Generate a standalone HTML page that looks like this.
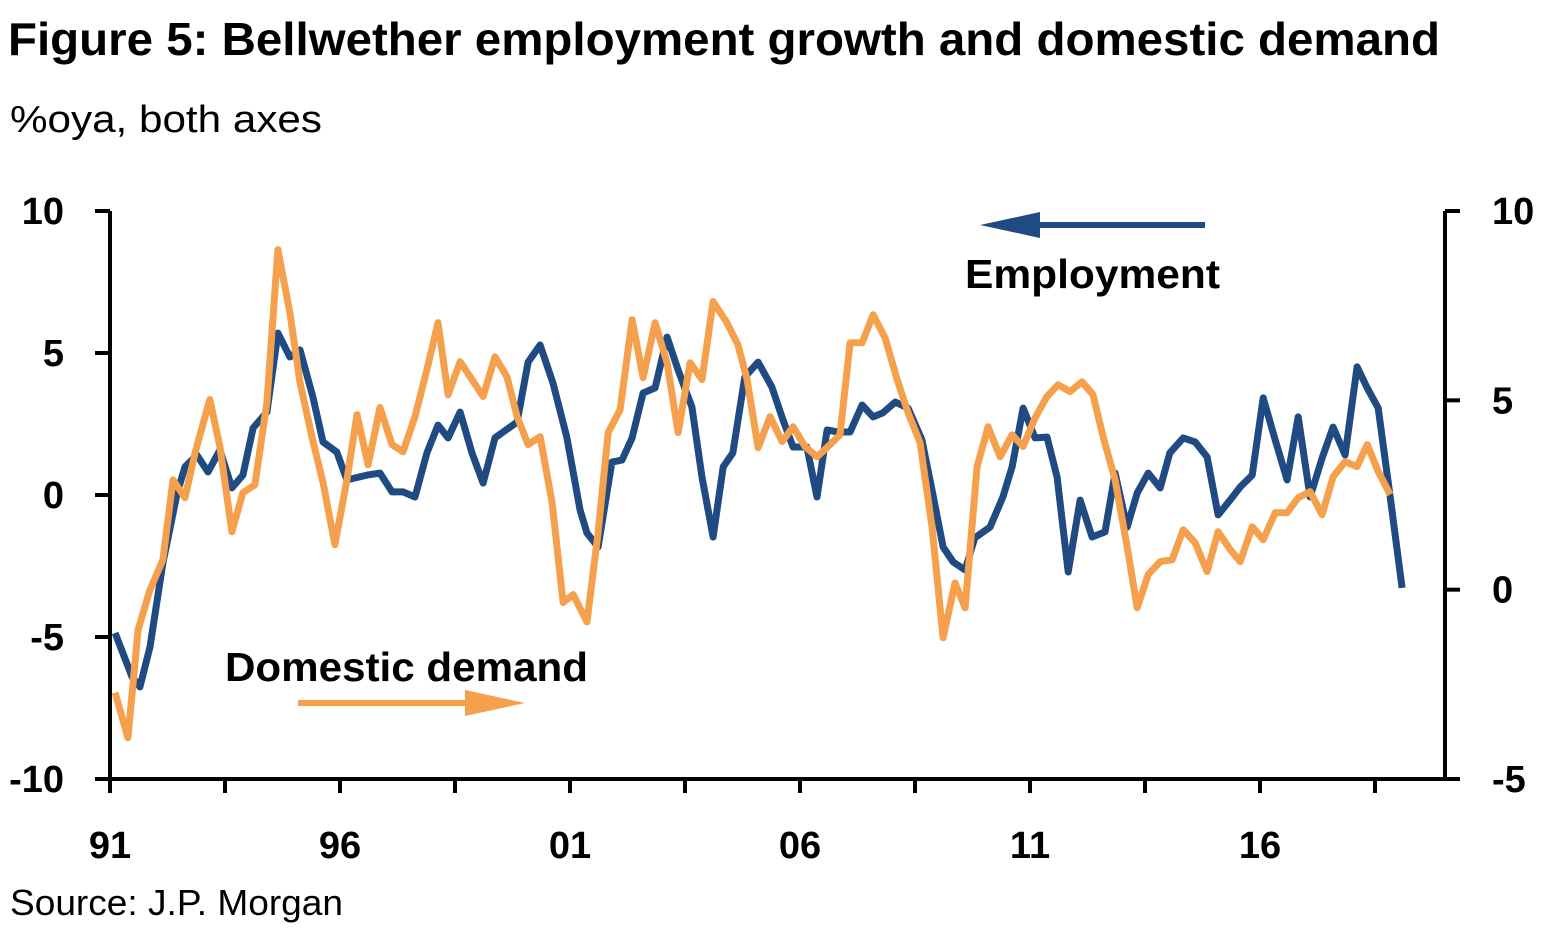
<!DOCTYPE html>
<html><head><meta charset="utf-8"><style>
body{margin:0;background:#fff;}
svg{display:block;font-family:"Liberation Sans",Arial,sans-serif;}
</style></head><body>
<svg id="chart" width="1547" height="934" viewBox="0 0 1547 934" xmlns="http://www.w3.org/2000/svg">
<text x="8" y="55" font-size="46" font-weight="bold" fill="#000" textLength="1432" lengthAdjust="spacingAndGlyphs">Figure 5: Bellwether employment growth and domestic demand</text>
<text x="10" y="132" font-size="38" fill="#000" textLength="312" lengthAdjust="spacingAndGlyphs">%oya, both axes</text>
<text x="10" y="915" font-size="36" fill="#000" textLength="333" lengthAdjust="spacingAndGlyphs">Source: J.P. Morgan</text>
<g id="axes"></g>
<g id="series"></g>
<text x="965" y="288" font-size="41" font-weight="bold" fill="#000" textLength="255" lengthAdjust="spacingAndGlyphs">Employment</text>
<line x1="1205" y1="225" x2="1030" y2="225" stroke="#1f4a82" stroke-width="6"/>
<polygon points="980,225 1040,212 1040,238" fill="#1f4a82"/>
<text x="225" y="681" font-size="41" font-weight="bold" fill="#000" textLength="363" lengthAdjust="spacingAndGlyphs">Domestic demand</text>
<line x1="298" y1="703" x2="470" y2="703" stroke="#f5a04c" stroke-width="6"/>
<polygon points="525,703 465,690 465,716" fill="#f5a04c"/>
</svg>
<script>
const empDates=[1991.11,1991.48,1991.65,1991.87,1992.15,1992.46,1992.63,1992.89,1993.13,1993.39,1993.65,1993.89,1994.11,1994.41,1994.65,1994.91,1995.13,1995.41,1995.63,1995.93,1996.15,1996.59,1996.87,1997.13,1997.37,1997.63,1997.89,1998.13,1998.35,1998.61,1998.87,1999.11,1999.37,1999.85,2000.09,2000.35,2000.63,2000.93,2001.22,2001.37,2001.61,2001.91,2002.13,2002.35,2002.59,2002.85,2003.11,2003.35,2003.65,2003.87,2004.11,2004.33,2004.54,2004.80,2005.09,2005.39,2005.63,2005.85,2006.15,2006.37,2006.59,2006.83,2007.09,2007.35,2007.59,2007.80,2008.07,2008.35,2008.65,2008.87,2009.11,2009.33,2009.59,2009.80,2010.13,2010.41,2010.61,2010.85,2011.11,2011.37,2011.59,2011.83,2012.09,2012.35,2012.63,2012.85,2013.11,2013.33,2013.57,2013.83,2014.04,2014.33,2014.59,2014.85,2015.09,2015.35,2015.57,2015.83,2016.07,2016.33,2016.59,2016.83,2017.09,2017.35,2017.59,2017.85,2018.11,2018.33,2018.57,2018.83,2019.09];
const empValues=[-4.86,-6.41,-6.76,-5.35,-2.39,0.07,0.99,1.41,0.81,1.58,0.25,0.70,2.36,2.92,5.70,4.86,5.11,3.45,1.87,1.51,0.53,0.70,0.77,0.11,0.11,-0.07,1.48,2.46,2.01,2.92,1.48,0.42,2.01,2.57,4.68,5.28,3.94,2.04,-0.53,-1.34,-1.83,1.16,1.23,2.01,3.59,3.77,5.56,4.40,3.10,0.63,-1.48,0.99,1.48,4.15,4.68,3.80,2.64,1.69,1.69,-0.07,2.29,2.22,2.22,3.17,2.75,2.89,3.27,3.06,1.94,0.18,-1.83,-2.36,-2.64,-1.51,-1.13,-0.07,0.99,3.06,2.01,2.04,0.63,-2.71,-0.18,-1.48,-1.30,0.77,-1.13,0.07,0.77,0.25,1.48,2.01,1.87,1.34,-0.70,-0.18,0.28,0.70,3.42,1.94,0.53,2.75,-0.07,1.30,2.39,1.41,4.51,3.77,3.06,-0.07,-3.27];
const demDates=[1991.11,1991.39,1991.61,1991.87,1992.15,1992.37,1992.63,1992.85,1993.17,1993.39,1993.65,1993.89,1994.15,1994.41,1994.65,1994.91,1995.13,1995.39,1995.63,1995.89,1996.15,1996.37,1996.61,1996.87,1997.13,1997.37,1997.63,1997.89,1998.13,1998.35,1998.61,1998.87,1999.11,1999.37,1999.63,1999.85,2000.09,2000.35,2000.61,2000.85,2001.07,2001.37,2001.61,2001.83,2002.09,2002.35,2002.59,2002.85,2003.11,2003.35,2003.61,2003.87,2004.11,2004.41,2004.65,2004.85,2005.09,2005.35,2005.61,2005.85,2006.11,2006.37,2006.61,2006.87,2007.09,2007.35,2007.59,2007.85,2008.11,2008.35,2008.61,2008.87,2009.11,2009.37,2009.59,2009.85,2010.09,2010.35,2010.61,2010.85,2011.11,2011.37,2011.61,2011.87,2012.13,2012.37,2012.59,2012.85,2013.11,2013.33,2013.57,2013.83,2014.09,2014.33,2014.59,2014.85,2015.09,2015.35,2015.57,2015.83,2016.07,2016.33,2016.59,2016.83,2017.09,2017.35,2017.59,2017.85,2018.11,2018.33,2018.57,2018.83];
const demValues=[-2.72,-3.91,-1.06,0,0.79,2.90,2.43,3.62,5.02,3.78,1.53,2.56,2.77,4.94,8.98,7.31,5.47,4.04,2.83,1.19,2.90,4.62,3.30,4.81,3.83,3.64,4.57,5.81,7.05,5.15,6.02,5.55,5.10,6.15,5.62,4.57,3.83,4.04,2.30,-0.34,-0.13,-0.85,1.51,4.15,4.75,7.13,5.60,7.05,5.99,4.15,5.99,5.55,7.61,7.05,6.47,5.55,3.75,4.57,3.91,4.30,3.78,3.51,3.78,4.09,6.52,6.52,7.26,6.65,5.55,4.67,3.88,1.66,-1.27,0.18,-0.48,3.25,4.30,3.51,4.09,3.78,4.54,5.10,5.41,5.23,5.49,5.15,4.04,2.90,1.14,-0.48,0.40,0.74,0.79,1.58,1.24,0.48,1.53,1.06,0.74,1.66,1.32,2.03,2.03,2.43,2.59,1.98,2.98,3.38,3.25,3.83,3.12,2.51];
const leftTicks=[10,5,0,-5,-10];
const rightTicks=[10,5,0,-5];
const xLabelYears=[1991,1996,2001,2006,2011,2016];
const xLabels=["91","96","01","06","11","16"];

const NS="http://www.w3.org/2000/svg";
const X0=110,X1=1445,YT=211,YB=779;
const xs=d=>X0+(d-1991)*46;
const yl=v=>YT+(10-v)*(YB-YT)/20;
const yr=v=>YT+(10-v)*(YB-YT)/15;
const axes=document.getElementById('axes'),series=document.getElementById('series');
function mk(tag,attrs,parent){const e=document.createElementNS(NS,tag);for(const k in attrs)e.setAttribute(k,attrs[k]);parent.appendChild(e);return e;}
let e;
e=mk('line',{x1:X0,y1:YT,x2:X0,y2:YB,stroke:'#000','stroke-width':4},axes);


e=mk('line',{x1:X1,y1:YT,x2:X1,y2:YB,stroke:'#000','stroke-width':4},axes);


e=mk('line',{x1:X0-2,y1:YB,x2:X1+2,y2:YB,stroke:'#000','stroke-width':4},axes);


leftTicks.forEach(v=>{
  e=mk('line',{x1:X0-15,y1:yl(v),x2:X0,y2:yl(v),stroke:'#000','stroke-width':4},axes);
  
  
  e=mk('text',{x:64,y:yl(v)+13,'font-size':38,'font-weight':'bold','text-anchor':'end'},axes);
  e.textContent=v;
  
  
});
rightTicks.forEach(v=>{
  e=mk('line',{x1:X1,y1:yr(v),x2:X1+15,y2:yr(v),stroke:'#000','stroke-width':4},axes);
  
  
  e=mk('text',{x:1492,y:yr(v)+13,'font-size':38,'font-weight':'bold'},axes);
  e.textContent=v;
  
  
});
for(let d=1991;d<=2020;d+=2.5){
  e=mk('line',{x1:xs(d),y1:YB,x2:xs(d),y2:YB+14,stroke:'#000','stroke-width':4},axes);
  
  
}
xLabelYears.forEach((d,i)=>{
  e=mk('text',{x:xs(d),y:858,'font-size':38,'font-weight':'bold','text-anchor':'middle'},axes);
  e.textContent=xLabels[i];
  
  
});
const empPts=empDates.map((d,i)=>xs(d).toFixed(1)+','+yl(empValues[i]).toFixed(1)).join(' ');
const demPts=demDates.map((d,i)=>xs(d).toFixed(1)+','+yr(demValues[i]).toFixed(1)).join(' ');
e=mk('polyline',{points:empPts,fill:'none',stroke:'#1f4a82','stroke-width':7,'stroke-linejoin':'round'},series);


e=mk('polyline',{points:demPts,fill:'none',stroke:'#f5a04c','stroke-width':7,'stroke-linejoin':'round'},series);


</script>
</body></html>
